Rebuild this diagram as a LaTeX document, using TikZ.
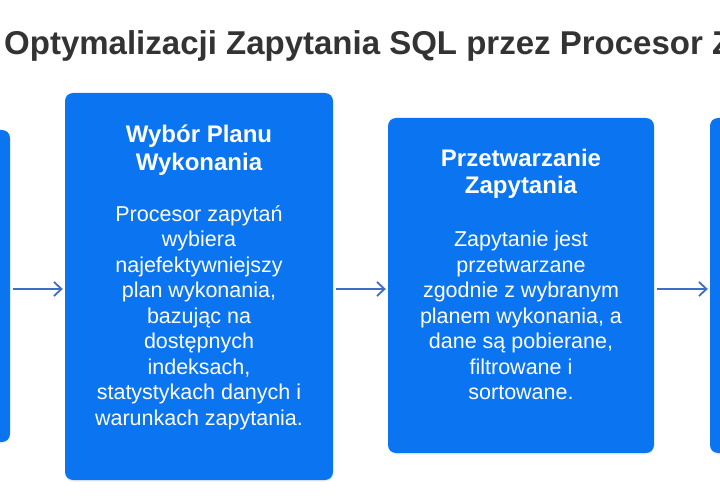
\documentclass[tikz,border=0pt]{standalone}
\usepackage{fontspec}
\setmainfont{Liberation Sans}
\usetikzlibrary{arrows.meta,shadows}
\definecolor{boxblue}{HTML}{0B74F1}
\definecolor{arrowblue}{HTML}{3E6DC5}
\definecolor{titlegray}{HTML}{333333}
\tikzset{
  stepbox/.style={rectangle, rounded corners=8pt, fill=boxblue, inner sep=0pt,
    drop shadow={opacity=0.12, shadow xshift=0pt, shadow yshift=-1.5pt}},
  boxtitle/.style={anchor=base, align=center, text=white, inner sep=0pt,
    font=\fontsize{24}{27.5}\selectfont\bfseries},
  boxbody/.style={anchor=base, align=center, text=white, inner sep=0pt,
    font=\fontsize{21.5}{25.5}\selectfont},
  flow/.style={draw=arrowblue, line width=1.8pt, -{Straight Barb[length=7.5pt,width=14pt]},
    shorten <=2.5pt, shorten >=2pt}
}
\begin{document}
\begin{tikzpicture}[x=1pt,y=-1pt]
\useasboundingbox (0,0) rectangle (720,500);
\fill[white] (0,0) rectangle (720,500);
\node[anchor=base west, inner sep=0pt, text=titlegray,
  font=\fontsize{33}{38}\selectfont\bfseries] (title) at (4,55)
  {Optymalizacji Zapytania SQL przez Procesor Z};

\node[stepbox, minimum width=268pt, minimum height=312pt] (n1) at (-124,286) {};
\node[stepbox, minimum width=268pt, minimum height=387pt] (n2) at (199,286.5) {};
\node[stepbox, minimum width=266pt, minimum height=335pt] (n3) at (521,285.5) {};
\node[stepbox, minimum width=268pt, minimum height=335pt] (n4) at (844,285.5) {};

% anchor=base of a multi-line node is the baseline of its last line
\node[boxtitle] (t2) at (199,170) {Wybór Planu\\Wykonania};
\node[boxbody] (b2) at (199,425) {Procesor zapytań\\wybiera\\najefektywniejszy\\plan wykonania,\\bazując na\\dostępnych\\indeksach,\\statystykach danych i\\warunkach zapytania.};

\node[boxtitle] (t3) at (521,193.5) {Przetwarzanie\\Zapytania};
\node[boxbody] (b3) at (521,399.5) {Zapytanie jest\\przetwarzane\\zgodnie z wybranym\\planem wykonania, a\\dane są pobierane,\\filtrowane i\\sortowane.};

\draw[flow] (n1.east |- 0,289) -- (n2.west |- 0,289);
\draw[flow] (n2.east |- 0,289) -- (n3.west |- 0,289);
\draw[flow] (n3.east |- 0,289) -- (n4.west |- 0,289);
\end{tikzpicture}
\end{document}
